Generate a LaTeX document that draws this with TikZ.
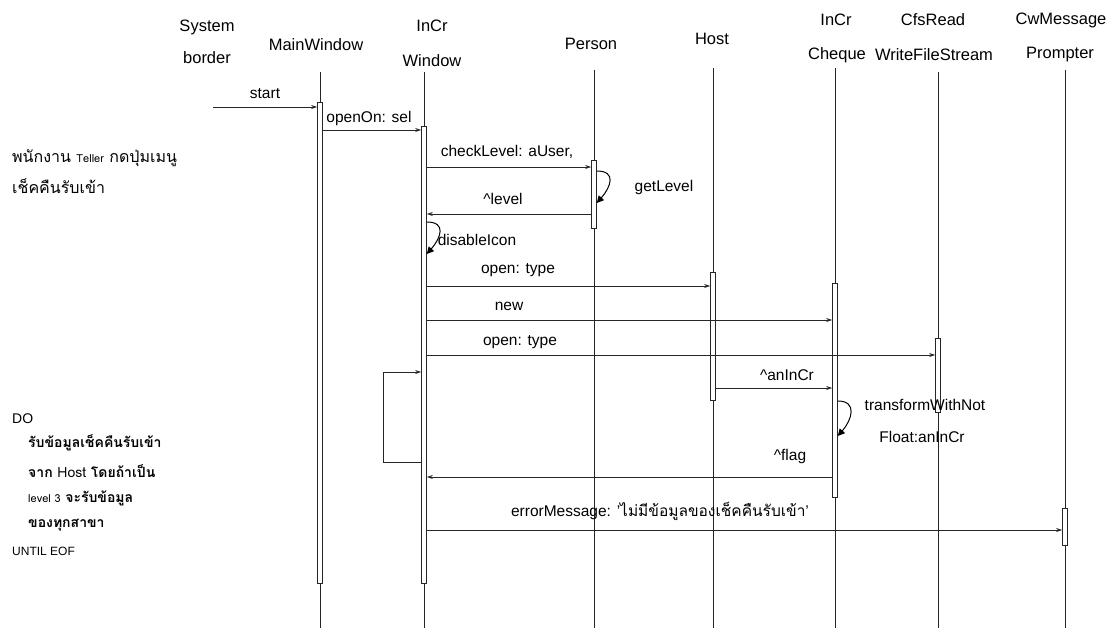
\documentclass[tikz,border=0pt]{standalone}
\usepackage{fontspec}
\setmainfont{Liberation Sans}
\newfontfamily\thaifont[Script=Thai]{Loma}
\usetikzlibrary{arrows.meta}

\begin{document}
\begin{tikzpicture}[
    x=1pt, y=-1pt,
    header/.style={font=\fontsize{16.5}{18}\selectfont, inner sep=1pt},
    msglabel/.style={font=\fontsize{15.5}{18}\selectfont, inner sep=1pt},
    note/.style={font=\thaifont\fontsize{16}{18}\selectfont, anchor=west, inner sep=0pt},
    loopnote/.style={font=\thaifont\bfseries\fontsize{14}{17}\selectfont, anchor=west, inner sep=0pt},
    lifeline/.style={black!85, line width=0.6pt},
    actbar/.style={draw=black!85, fill=white, line width=0.6pt, minimum width=5pt, inner sep=0pt, anchor=north},
    msg/.style={black!85, line width=0.6pt, -{Stealth[length=6pt, width=4pt]}},
    selfcall/.style={black, line width=1pt, -{Triangle[length=7pt, width=7pt]}},
]
    \useasboundingbox (0,0) rectangle (1108,628);
    \def\bottom{628}

    % headers
    \foreach \id/\x/\y/\txt in {%
        sys1/207/27/System, sys2/207/58/border,%
        main/316/45/MainWindow,%
        incr1/432/26/InCr, incr2/432/61/Window,%
        person/591/44/Person,%
        host/712/39/Host,%
        chq1/836/20/InCr, chq2/837/55/Cheque,%
        cfs1/933/20/CfsRead, cfs2/934/55/WriteFileStream,%
        cw1/1061/20/CwMessage, cw2/1060/55/Prompter%
    }{
        \node[header] (hdr-\id) at (\x,\y) {\txt};
    }

    % lifelines and activation bars
    \foreach \id/\x/\top/\a/\b in {%
        main/320/72/102/583,%
        incrwin/424/72/126/583,%
        person/594/70/160/228,%
        host/713/68/272/400,%
        cheque/835/68/283/497,%
        cfs/938/72/338/412,%
        prompter/1065/70/508/545%
    }{
        \coordinate (ll-\id) at (\x,\top);
        \draw[lifeline] (ll-\id) -- (\x,\bottom);
        \pgfmathsetmacro{\h}{\b-\a}
        \node[actbar, minimum height=\h pt] (bar-\id) at (\x,\a) {};
    }

    % messages
    \coordinate (start-src) at (213,107);
    \draw[msg] (start-src) -- (bar-main.west |- start-src);
    \node[msglabel] (lbl-start) at (265,94) {start};

    \foreach \from/\fa/\to/\ta/\y/\lx/\ly/\lbl [count=\i] in {%
        main/east/incrwin/west/130/369/118/{openOn: sel},%
        incrwin/east/person/west/167/507/152/{checkLevel: aUser,},%
        person/west/incrwin/east/214/503/199/{\textasciicircum level},%
        incrwin/east/host/west/286/518/270/{open: type},%
        incrwin/east/cheque/west/320/509/306/{new},%
        incrwin/east/cfs/west/355/520/342/{open: type},%
        host/east/cheque/west/388/787/375/{\textasciicircum anInCr},%
        cheque/west/incrwin/east/477/790/456/{\textasciicircum flag},%
        incrwin/east/prompter/west/530/660/511/{errorMessage: '{\thaifont ไม่มีข้อมูลของเช็คคืนรับเข้า}'}%
    }{
        \coordinate (m-\i) at (0,\y);
        \draw[msg] (bar-\from.\fa |- m-\i) -- (bar-\to.\ta |- m-\i);
        \node[msglabel] (lbl-\i) at (\lx,\ly) {\lbl};
    }

    % self calls
    \foreach \id/\a/\b/\lx/\ly/\lbl in {%
        person/171/203/664/187/getLevel,%
        incrwin/222/254/477/240/disableIcon,%
        cheque/401/436/925/405/transformWithNot%
    }{
        \coordinate (sc-\id-a) at (0,\a);
        \coordinate (sc-\id-b) at (0,\b);
        \draw[selfcall] (bar-\id.east |- sc-\id-a) .. controls +(20,0) and +(14,-16) .. (bar-\id.east |- sc-\id-b);
        \node[msglabel] (lbl-\id) at (\lx,\ly) {\lbl};
    }
    \node[msglabel] (lbl-float) at (922,437) {Float:anInCr};

    % loop back
    \coordinate (loop-top) at (383,372);
    \coordinate (loop-bot) at (383,462);
    \draw[msg] (bar-incrwin.west |- loop-bot) -- (loop-bot) -- (loop-top) -- (bar-incrwin.west |- loop-top);

    % notes
    \node[note] (note-1) at (12,158) {พนักงาน {\fontsize{11}{13}\selectfont Teller} กดปุ่มเมนู};
    \node[note] (note-2) at (12,186) {เช็คคืนรับเข้า};
    \node[note, font=\fontsize{14}{16}\selectfont] (note-do) at (12,419) {DO};
    \node[loopnote] (note-3) at (28,443) {รับข้อมูลเช็คคืนรับเข้า};
    \node[loopnote] (note-4) at (28,471) {จาก {\mdseries Host} โดยถ้าเป็น};
    \node[loopnote] (note-5) at (28,498) {{\mdseries\fontsize{11}{13}\selectfont level 3} จะรับข้อมูล};
    \node[loopnote] (note-6) at (28,525) {ของทุกสาขา};
    \node[note, font=\fontsize{12}{14}\selectfont] (note-until) at (12,551) {UNTIL EOF};

\end{tikzpicture}
\end{document}
